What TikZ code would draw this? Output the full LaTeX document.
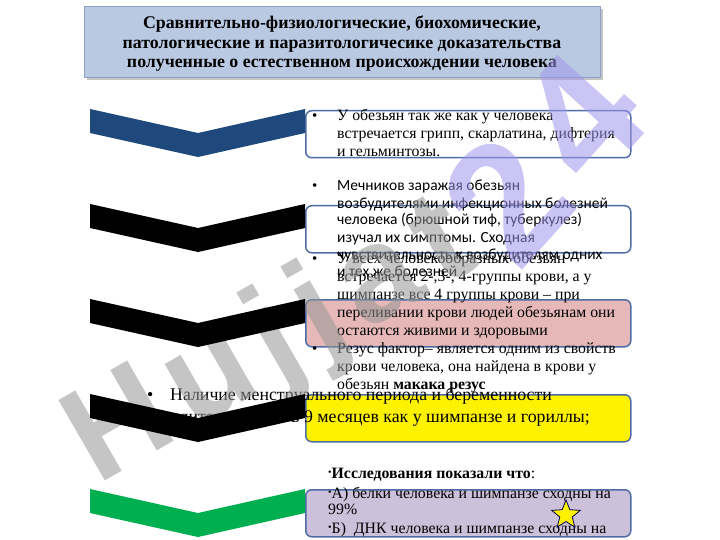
\documentclass[tikz,border=0pt]{standalone}
\usepackage{fontspec}
\setmainfont{Liberation Serif}
\newfontfamily\calibrifont{Carlito}
\newfontfamily\wmfont[LetterSpace=10]{Liberation Sans}
\usetikzlibrary{shapes.geometric,shadows}

\definecolor{titlefill}{RGB}{185,201,226}
\definecolor{titledraw}{RGB}{140,160,195}
\definecolor{boxdraw}{RGB}{79,108,165}
\definecolor{chevblue}{RGB}{31,73,125}
\definecolor{chevgreen}{RGB}{0,176,80}
\definecolor{pinkfill}{RGB}{230,185,184}
\definecolor{lavfill}{RGB}{204,192,218}
\definecolor{wmgray}{RGB}{150,150,150}
\definecolor{wmlav}{RGB}{160,150,235}

\tikzset{
  infobox/.style={draw=boxdraw, line width=1.5pt, rounded corners=6pt,
    minimum width=325pt, minimum height=47pt, anchor=north west, inner sep=0pt},
  txt/.style={anchor=base west, inner sep=0pt, font=\fontsize{15.8}{18}\selectfont},
  sanstxt/.style={anchor=base west, inner sep=0pt, font=\calibrifont\fontsize{15.5}{17}\selectfont},
  bigtxt/.style={inner sep=0pt, font=\fontsize{17.8}{21}\selectfont},
  bul/.style={anchor=base west, inner sep=0pt, font=\fontsize{15}{17}\selectfont},
  titletxt/.style={anchor=base, inner sep=0pt, font=\bfseries\fontsize{17.8}{19}\selectfont},
  wmark/.style={inner sep=0pt, text opacity=0.55},
}
\newcommand{\smb}{\raisebox{0.3ex}{\fontsize{10}{10}\selectfont •}}

\begin{document}
\begin{tikzpicture}[x=1pt,y=-1pt]
\useasboundingbox (0,0) rectangle (720,540);
\fill[white] (0,0) rectangle (720,540);

% title
\node[draw=titledraw, fill=titlefill, line width=1pt, minimum width=516pt, minimum height=71pt,
  anchor=north west, inner sep=0pt,
  drop shadow={shadow xshift=2.5pt, shadow yshift=-2.5pt, opacity=0.45, fill=gray}] (title) at (84,6) {};
\node[titletxt] (tl1) at (342,29) {Сравнительно-физиологические, биохомические,};
\node[titletxt] (tl2) at (342,48.5) {патологические и паразитологичесике доказательства};
\node[titletxt] (tl3) at (342,68) {полученные о естественном происхождении человека};

% boxes
\node[infobox, fill=white] (b1) at (305,110) {};
\node[infobox, fill=white] (b2) at (305,205) {};
\node[infobox, fill=pinkfill] (b3) at (305,299) {};
\node[infobox, fill=yellow] (b4) at (305,394) {};
\node[infobox, fill=lavfill] (b5) at (305,489) {};

% text 1
\node[bul] (u1) at (312,121) {•};
\foreach \t [count=\i] in {У обезьян так же как у человека,
  {встречается грипп, скарлатина, дифтерия}, и гельминтозы.}
  \node[txt] (ta\i) at (337,{121+18*(\i-1)}) {\t};

% text 2
\node[bul] (u2) at (312,191) {•};
\foreach \t [count=\i] in {Мечников заражая обезьян,
  возбудителями инфекционных болезней,
  {человека (брюшной тиф, туберкулез)},
  изучал их симптомы. Сходная,
  чувствительность к возбудителям одних,
  и тех же болезней}
  \node[sanstxt] (tb\i) at (337,{191+17*(\i-1)}) {\t};

% text 3
\node[bul] (u3) at (312,263) {•};
\foreach \t [count=\i] in {У всех человекообразных обезьян,
  {встречается 2-,3-, 4-группы крови, а у},
  шимпанзе все 4 группы крови – при,
  переливании крови людей обезьянам они,
  остаются живими и здоровыми}
  \node[txt] (tc\i) at (337,{263+18*(\i-1)}) {\t};
\node[bul] (u4) at (312,353) {•};
\foreach \t [count=\i] in {Резус фактор– является одним из свойств,
  {крови человека, она найдена в крови у},
  обезьян \textbf{макака резус}}
  \node[txt] (td\i) at (337,{353+18*(\i-1)}) {\t};

% text 4
\node[bigtxt, anchor=base west] (u5) at (147,400) {•};
\node[bigtxt, anchor=base west] (te1) at (170,400) {Наличие менструального периода и беременности};
\node[bigtxt, anchor=base east] (te2) at (590,422) {длительностью в 9 месяцев как у шимпанзе и гориллы;};

% text 5
\node[txt] (tf1) at (328,478) {\smb\textbf{Исследования показали что}:};
\node[txt] (tf2) at (328,498) {\smb А) белки человека и шимпанзе сходны на};
\node[txt] (tf3) at (328,514) {99\%};
\node[txt] (tf4) at (328,533) {\smb Б)\ \ ДНК человека и шимпанзе сходны на};
\node[txt] (tf5) at (328,551) {98\%};

% watermark
\node[wmark, rotate=30, font=\wmfont\bfseries\fontsize{135}{135}\selectfont, text=wmgray]
  (wm1) at (272,345) {Hujjat};
\node[wmark, rotate=48, font=\wmfont\bfseries\fontsize{170}{170}\selectfont, text=wmlav]
  (wm2) at (543,158) {24};

% chevrons
\foreach \k/\c in {0/chevblue,1/black,2/black,3/black,4/chevgreen}{
  \fill[\c] (90,{109+95*\k}) -- (198,{133+95*\k}) -- (305,{109+95*\k}) -- (305,{133+95*\k})
    -- (198,{157+95*\k}) -- (90,{133+95*\k}) -- cycle;
}

% star
\node[star, star points=5, star point ratio=2.3, minimum size=30pt, inner sep=0pt,
  fill=yellow, draw=black!70!blue, line width=0.8pt] (st) at (566,515) {};
\end{tikzpicture}
\end{document}
